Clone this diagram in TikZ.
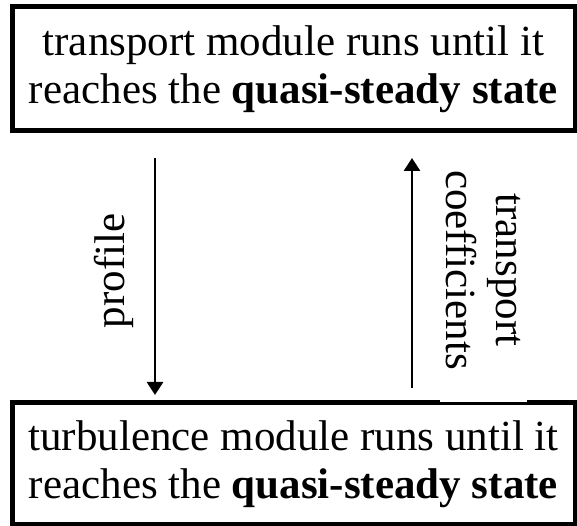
\documentclass[tikz,border=0pt]{standalone}
\usepackage{fontspec}
\setmainfont{Liberation Serif}
\usetikzlibrary{arrows.meta}
\begin{document}
\begin{tikzpicture}[x=1pt,y=1pt,
  modbox/.style={draw, line width=5pt, minimum width=563pt, inner sep=0pt, align=center, font=\fontsize{43}{48}\selectfont},
  lbl/.style={inner sep=0pt, align=center, font=\fontsize{43}{50}\selectfont},
  flow/.style={line width=2.8pt, -{Triangle[width=16pt,length=13pt]}}]
\useasboundingbox (0,0) rectangle (577,526);
\node[modbox, minimum height=124pt] (top) at (293.5,457) {transport module runs until it\\reaches the \textbf{quasi-steady state}};
\node[modbox, minimum height=122.5pt] (bot) at (293.5,62.25) {turbulence module runs until it\\reaches the \textbf{quasi-steady state}};
\coordinate (a1) at (155,368);
\coordinate (a2) at (155,131);
\coordinate (b1) at (412,138);
\coordinate (b2) at (412,368);
\draw[flow] (a1) -- (a2);
\draw[flow] (b1) -- (b2);
\node[lbl, rotate=90] (prof) at (114,255) {profile};
\node[lbl, rotate=-90, fill=white, minimum width=264pt, minimum height=87pt] (coef) at (483.5,256) {transport\\coefficients};
\end{tikzpicture}
\end{document}
